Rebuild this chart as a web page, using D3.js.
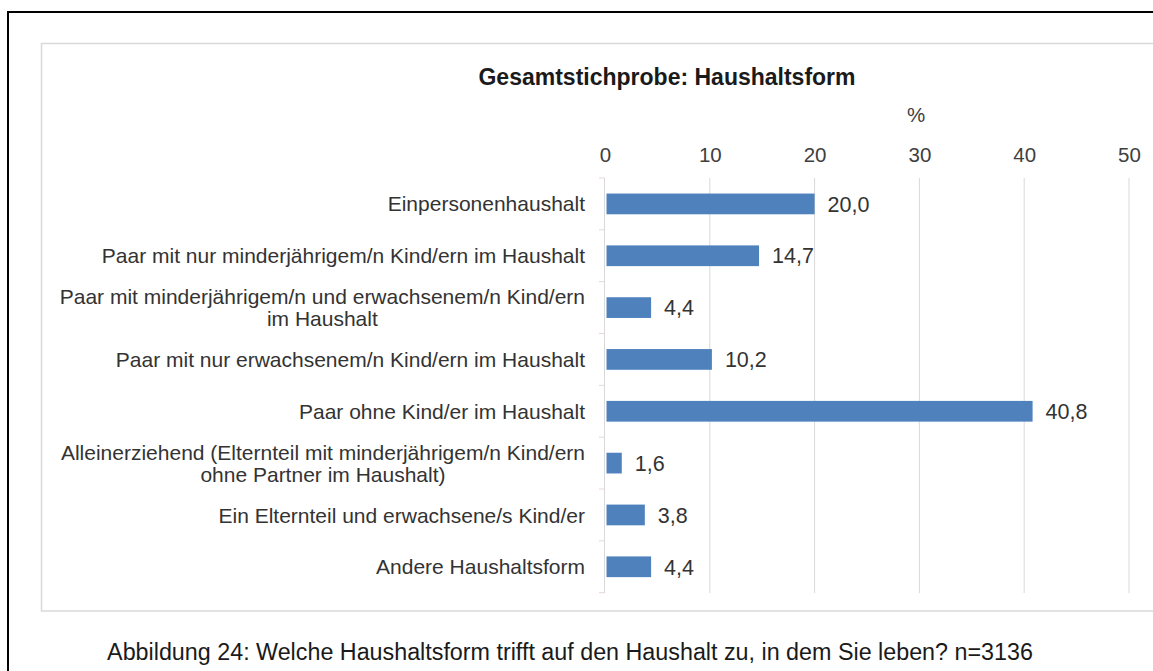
<!DOCTYPE html>
<html>
<head>
<meta charset="utf-8">
<script src="https://cdn.jsdelivr.net/npm/d3@7"></script>
<style>
  html, body { margin: 0; padding: 0; background: #fff; }
  svg { display: block; font-family: "Liberation Sans", Arial, sans-serif; }
</style>
</head>
<body>
<svg id="chart" width="1153" height="671"></svg>
<script>
const categories = [
  ["Einpersonenhaushalt"],
  ["Paar mit nur minderjährigem/n Kind/ern im Haushalt"],
  ["Paar mit minderjährigem/n und erwachsenem/n Kind/ern", "im Haushalt"],
  ["Paar mit nur erwachsenem/n Kind/ern im Haushalt"],
  ["Paar ohne Kind/er im Haushalt"],
  ["Alleinerziehend (Elternteil mit minderjährigem/n Kind/ern", "ohne Partner im Haushalt)"],
  ["Ein Elternteil und erwachsene/s Kind/er"],
  ["Andere Haushaltsform"]
];
const values = [20.0, 14.7, 4.4, 10.2, 40.8, 1.6, 3.8, 4.4];
const xTicks = [0, 10, 20, 30, 40, 50];
const title = "Gesamtstichprobe: Haushaltsform";
const unitLabel = "%";
const caption = "Abbildung 24: Welche Haushaltsform trifft auf den Haushalt zu, in dem Sie leben? n=3136";

const svg = d3.select("#chart");
const fmt = v => d3.format(".1f")(v).replace(".", ",");

// frames
svg.append("rect").attr("x", 8).attr("y", 12).attr("width", 1160).attr("height", 680)
  .attr("fill", "none").attr("stroke", "#000").attr("stroke-width", 2);
svg.append("rect").attr("x", 41.5).attr("y", 43.5).attr("width", 1130).attr("height", 567.5)
  .attr("fill", "#fff").attr("stroke", "#d9d9d9").attr("stroke-width", 1.5);

const x = d3.scaleLinear().domain([0, 50]).range([605, 1129]);
const idx = categories.map((d, i) => i);
const y = d3.scaleBand().domain(idx).range([178, 592.7]).paddingInner(0.6).paddingOuter(0.3);

// gridlines
svg.append("g").selectAll("line").data(xTicks.filter(t => t > 0)).join("line")
  .attr("x1", d => x(d)).attr("x2", d => x(d))
  .attr("y1", 178).attr("y2", 593)
  .attr("stroke", "#d9d9d9").attr("stroke-width", 1);

// y axis line and ticks
const yb = d3.scaleBand().domain(idx).range([178, 592.7]);
svg.append("line").attr("x1", 604.5).attr("x2", 604.5).attr("y1", 178).attr("y2", 593)
  .attr("stroke", "#d9d9d9").attr("stroke-width", 1);
svg.append("g").selectAll("line").data(idx.concat([idx.length])).join("line")
  .attr("x1", 599).attr("x2", 604.5)
  .attr("y1", d => 178 + d * yb.step()).attr("y2", d => 178 + d * yb.step())
  .attr("stroke", "#e6d6dc").attr("stroke-width", 1);

// x axis tick labels (top)
const xAxis = d3.axisTop(x).tickValues(xTicks).tickSize(0).tickPadding(0).tickFormat(d3.format("d"));
const gx = svg.append("g").attr("transform", "translate(0,162)").call(xAxis);
gx.select(".domain").remove();
gx.selectAll("text").attr("font-size", 20.5).attr("fill", "#404040")
  .attr("font-family", "Liberation Sans, Arial, sans-serif").attr("dy", 0);

// unit label
svg.append("text").attr("x", 916).attr("y", 122).attr("text-anchor", "middle")
  .attr("font-size", 20.5).attr("fill", "#404040").text(unitLabel);

// title
svg.append("text").attr("x", 667).attr("y", 85).attr("text-anchor", "middle")
  .attr("font-size", 23).attr("font-weight", "bold").attr("fill", "#1a1a1a").text(title);

// bars
svg.append("g").selectAll("rect").data(values).join("rect")
  .attr("x", x(0) + 1.5)
  .attr("y", (d, i) => y(i))
  .attr("width", d => x(d) - x(0) - 1.5)
  .attr("height", y.bandwidth())
  .attr("fill", "#4f81bd");

// value labels
svg.append("g").selectAll("text").data(values).join("text")
  .attr("x", d => x(d) + 13)
  .attr("y", (d, i) => y(i) + y.bandwidth() / 2)
  .attr("dy", "0.36em")
  .attr("font-size", 21.5).attr("fill", "#333")
  .text(d => fmt(d));

// category labels
const lineH = 22;
const labG = svg.append("g");
categories.forEach((lines, i) => {
  const cy = y(i) + y.bandwidth() / 2;
  const g = labG.append("g");
  const texts = lines.map((ln, j) => g.append("text")
    .attr("y", cy + (j - (lines.length - 1) / 2) * lineH)
    .attr("dy", "0.36em")
    .attr("text-anchor", "middle")
    .attr("font-size", 21).attr("fill", "#333")
    .text(ln));
  const maxW = d3.max(texts, t => t.node().getComputedTextLength());
  texts.forEach(t => t.attr("x", 585 - maxW / 2));
});

// caption
svg.append("text").attr("x", 570).attr("y", 660).attr("text-anchor", "middle")
  .attr("font-size", 23.3).attr("fill", "#1a1a1a").text(caption);
</script>
</body>
</html>
